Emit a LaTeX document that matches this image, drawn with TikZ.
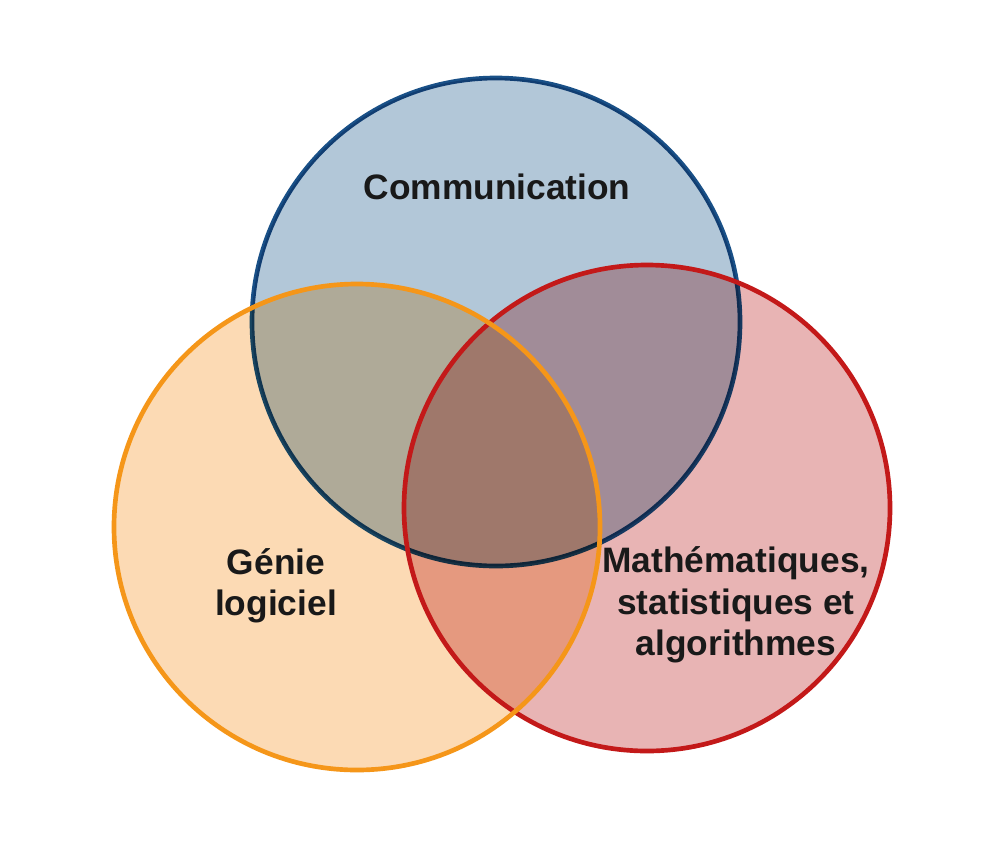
\documentclass[tikz,border=0pt]{standalone}
\usepackage{fontspec}
\setmainfont{Liberation Sans}
\begin{document}
\begin{tikzpicture}[x=0.75pt,y=-0.75pt,
  lab/.style={font=\bfseries\fontsize{26.5}{31}\selectfont,align=center,text=black!90},
  ring/.style={line width=3.5pt}]
\useasboundingbox (0,0) rectangle (1002,854);
\fill[white] (0,0) rectangle (1002,854);
\begin{scope}[blend group=multiply]
\fill[fill={rgb,255:red,178;green,199;blue,216}] (496,322) circle[radius=244];
\fill[fill={rgb,255:red,252;green,218;blue,180}] (357,527) circle[radius=243];
\fill[fill={rgb,255:red,232;green,180;blue,180}] (647,508) circle[radius=243];
\draw[ring,draw={rgb,255:red,25;green,80;blue,135}] (496,322) circle[radius=244];
\end{scope}
\draw[ring,draw={rgb,255:red,195;green,25;blue,25}] (647,508) circle[radius=243];
\draw[ring,draw={rgb,255:red,245;green,150;blue,25}] (357,527) circle[radius=243];
\node[lab] (com) at (497,187) {Communication};
\node[lab] (gen) at (276,586) {Génie\\logiciel};
\node[lab] (mat) at (736,605) {Mathématiques,\\statistiques et\\algorithmes};
\end{tikzpicture}
\end{document}
